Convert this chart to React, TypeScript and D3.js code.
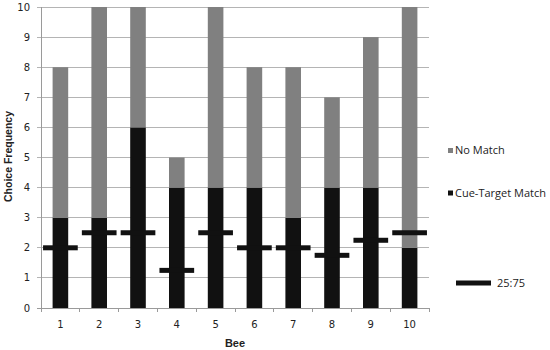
import React from "react";
import * as d3 from "d3";

const bees = ["1", "2", "3", "4", "5", "6", "7", "8", "9", "10"];
const cueTargetMatch = [3, 3, 6, 4, 4, 4, 3, 4, 4, 2];
const noMatch = [5, 7, 4, 1, 6, 4, 5, 3, 5, 8];
const chance2575 = [2, 2.5, 2.5, 1.25, 2.5, 2, 2, 1.75, 2.25, 2.5];
const yTicks = [0, 1, 2, 3, 4, 5, 6, 7, 8, 9, 10];

const W = 550;
const H = 350;
const plotL = 41;
const plotR = 429;
const plotT = 7;
const plotB = 308;

const GRAY = "#808080";
const BLACK = "#111111";
const GRID = "#b4b4b4";
const FONT = "'DejaVu Sans', Verdana, sans-serif";
const BOLDFONT = "'Liberation Sans', Arial, sans-serif";

export default function App() {
  const x = d3.scaleBand<string>().domain(bees).range([plotL, plotR]).paddingInner(0).paddingOuter(0);
  const y = d3.scaleLinear().domain([0, 10]).range([plotB, plotT]);
  const barW = 15.6;
  const markW = 34.7;
  const stack = d3.stack<number>().keys(["match", "nomatch"]).value((i, k) =>
    k === "match" ? cueTargetMatch[i] : noMatch[i]
  )(d3.range(bees.length));
  const colors = [BLACK, GRAY];

  return (
    <svg width={W} height={H} style={{ position: "absolute", left: 0, top: 0, background: "#fff" }}>
      {yTicks.map((t) => (
        <g key={t}>
          <line x1={plotL - 4} x2={plotR} y1={y(t)} y2={y(t)} stroke={t === 0 ? "#9a9a9a" : GRID} strokeWidth={1} shapeRendering="crispEdges" />
          <text x={30} y={y(t)} dy="0.35em" textAnchor="end" fontFamily={FONT} fontSize={10} fill="#222">
            {t}
          </text>
        </g>
      ))}
      <line x1={plotL} x2={plotL} y1={plotT} y2={plotB} stroke="#9a9a9a" shapeRendering="crispEdges" />
      {d3.range(bees.length + 1).map((i) => {
        const xx = plotL + i * x.bandwidth();
        return <line key={i} x1={xx} x2={xx} y1={plotB} y2={plotB + 4} stroke="#9a9a9a" shapeRendering="crispEdges" />;
      })}
      {stack.map((layer, li) =>
        layer.map((d, i) => (
          <rect
            key={`${li}-${i}`}
            x={(x(bees[i]) as number) + x.bandwidth() / 2 - barW / 2}
            width={barW}
            y={y(d[1])}
            height={y(d[0]) - y(d[1])}
            fill={colors[li]}
          />
        ))
      )}
      {chance2575.map((v, i) => (
        <rect
          key={i}
          x={(x(bees[i]) as number) + x.bandwidth() / 2 - markW / 2}
          width={markW}
          y={y(v) - 2.5}
          height={5}
          fill={BLACK}
        />
      ))}
      {bees.map((b) => (
        <text key={b} x={(x(b) as number) + x.bandwidth() / 2} y={324} dy="0.35em" textAnchor="middle" fontFamily={FONT} fontSize={10} fill="#222">
          {b}
        </text>
      ))}
      <text x={(plotL + plotR) / 2} y={343} dy="0.35em" textAnchor="middle" fontFamily={BOLDFONT} fontSize={11} fontWeight="bold" fill="#222">
        Bee
      </text>
      <text
        transform={`translate(8.5,${(plotT + plotB) / 2 - 1}) rotate(-90)`}
        dy="0.35em"
        textAnchor="middle"
        fontFamily={BOLDFONT}
        fontSize={10.5}
        fontWeight="bold"
        fill="#222"
      >
        Choice Frequency
      </text>
      <rect x={448} y={148} width={5} height={5} fill={GRAY} />
      <text x={455} y={150.5} dy="0.35em" fontFamily="'Open Sans', sans-serif" fontSize={11} fill="#222">
        No Match
      </text>
      <rect x={448} y={190.5} width={5} height={5} fill={BLACK} />
      <text x={455} y={193} dy="0.35em" fontFamily="'Open Sans', sans-serif" fontSize={11} fill="#222">
        Cue-Target Match
      </text>
      <rect x={456} y={280.5} width={35} height={5} fill={BLACK} />
      <text x={497} y={283} dy="0.35em" fontFamily="'Open Sans', sans-serif" fontSize={11} fill="#222">
        25:75
      </text>
    </svg>
  );
}
